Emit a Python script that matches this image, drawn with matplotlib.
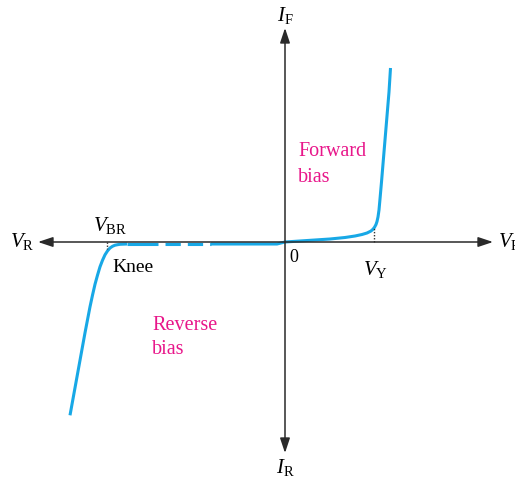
import matplotlib
matplotlib.use("Agg")
import matplotlib.pyplot as plt
import numpy as np

plt.rcParams["font.family"] = "Liberation Serif"
plt.rcParams["mathtext.fontset"] = "custom"
plt.rcParams["mathtext.rm"] = "Liberation Serif"
plt.rcParams["mathtext.it"] = "Liberation Serif:italic"

# diode I-V characteristic (arbitrary units, origin at 0,0)
forward_v = [0, 15, 30, 45, 60, 70, 77, 82, 86, 88, 89.5, 91, 92, 93, 94, 95,
             96.5, 98, 100, 102, 104, 105.5]
forward_i = [0, 1, 2, 3, 4.5, 6, 7.5, 9, 11, 12.8, 14.7, 17.5, 20.5, 25, 32, 43,
             60, 78, 102, 126, 150, 174]

reverse_v = [-158, -165, -167.5, -170, -172.5, -175, -177.5, -180, -182.5, -185,
             -187.5, -190, -192.5, -195, -200, -205, -210, -215]
reverse_i = [-2.0, -2.3, -2.7, -3.2, -4.3, -6.0, -8.9, -12.8, -18.3, -24.8,
             -33.2, -42.3, -53.2, -64.8, -90.8, -118.3, -145.8, -173.3]

flat_left_v = [-158, -127]
dashed_v = [-127, -74]
flat_right_v = [-74, -8]
flat_i = -2.0

v_knee = -178
v_gamma = 89

curve_color = "#18a8e6"
text_color = "#e8168a"

fig = plt.figure(figsize=(5.15, 4.82), dpi=100)
ax = fig.add_axes([0, 0, 1, 1])
ax.set_xlim(-285, 230)
ax.set_ylim(-240, 242)
ax.axis("off")

# axes with arrows
arrow = dict(arrowstyle="-|>,head_length=0.9,head_width=0.3", color="#2a2a2a", lw=1.1,
             shrinkA=0, shrinkB=0)
ax.annotate("", xy=(-247, 0), xytext=(0, 0), arrowprops=arrow)
ax.annotate("", xy=(208, 0), xytext=(0, 0), arrowprops=arrow)
ax.annotate("", xy=(0, 214), xytext=(0, 0), arrowprops=arrow)
ax.annotate("", xy=(0, -211), xytext=(0, 0), arrowprops=arrow)

# characteristic curve
lw = 2.2
ax.plot(forward_v, forward_i, color=curve_color, lw=lw, solid_capstyle="butt",
        solid_joinstyle="round")
ax.plot(reverse_v, reverse_i, color=curve_color, lw=lw, solid_capstyle="butt",
        solid_joinstyle="round")
ax.plot(flat_left_v, [flat_i] * 2, color=curve_color, lw=lw, solid_capstyle="butt")
ax.plot(dashed_v, [flat_i] * 2, color=curve_color, lw=lw, ls=(5.0, (5.0, 2.3)),
        dash_capstyle="butt")
ax.plot(flat_right_v + [0], [flat_i, flat_i, 0], color=curve_color, lw=lw,
        solid_capstyle="butt", solid_joinstyle="round")

# dotted markers at knee and threshold
ax.plot([v_knee, v_knee], [0, -7], color="#333333", lw=1.0, ls=(0, (1, 1.2)))
ax.plot([v_gamma, v_gamma], [0, 14], color="#333333", lw=1.0, ls=(0, (1, 1.2)))

fs = 15
ax.text(-263, 0, r"$V_{\mathrm{R}}$", fontsize=fs, ha="center", va="center")
ax.text(213, 0, r"$V_{\mathrm{F}}$", fontsize=fs, ha="left", va="center")
ax.text(0, 226, r"$I_{\mathrm{F}}$", fontsize=fs, ha="center", va="center")
ax.text(0, -226, r"$I_{\mathrm{R}}$", fontsize=fs, ha="center", va="center")
ax.text(-175, 17, r"$V_{\mathrm{BR}}$", fontsize=fs, ha="center", va="center")
ax.text(v_gamma + 1, -27, r"$V_{\mathrm{Y}}$", fontsize=fs, ha="center", va="center")
ax.text(9, -15, "0", fontsize=13, ha="center", va="center")
ax.text(-152, -26, "Knee", fontsize=14, ha="center", va="center")
ax.text(13, 90, "Forward", fontsize=14.5, color=text_color, ha="left", va="center")
ax.text(13, 65, "bias", fontsize=14.5, color=text_color, ha="left", va="center")
ax.text(-133, -83, "Reverse", fontsize=14.5, color=text_color, ha="left", va="center")
ax.text(-133, -108, "bias", fontsize=14.5, color=text_color, ha="left", va="center")

fig.savefig("out.png", dpi=100)
